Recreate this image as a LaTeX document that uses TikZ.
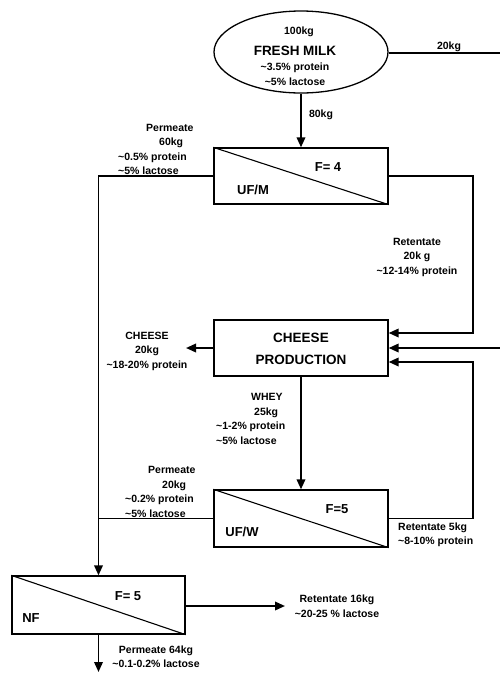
\documentclass[tikz,border=0pt]{standalone}
\usepackage{fontspec}
\setmainfont{Liberation Sans}
\usetikzlibrary{arrows.meta,shapes.geometric}
\begin{document}
\begin{tikzpicture}[x=1pt,y=-1pt,
 box/.style={draw,line width=1.3pt,minimum width=174pt,minimum height=56pt,inner sep=0pt},
 conn/.style={line width=1.9pt},
 arr/.style={conn,-{Triangle[length=10pt,width=8.5pt]}},
 diag/.style={line width=1.1pt},
 sm/.style={font=\bfseries\fontsize{10.5}{14.5}\selectfont,inner sep=0pt},
 big/.style={font=\bfseries\fontsize{13.5}{16}\selectfont,inner sep=0pt},
 lab/.style={font=\bfseries\fontsize{13}{15}\selectfont,inner sep=0pt}]
\useasboundingbox (0,0) rectangle (500,673);

% main units
\node[ellipse,draw,line width=1.3pt,minimum width=174pt,minimum height=82pt,inner sep=0pt] (milk) at (301,52) {};
\node[box] (ufm) at (301,176) {};
\node[box] (cheese) at (301,348) {};
\node[box,minimum height=57pt] (ufw) at (301,518.5) {};
\node[box,minimum width=173pt,minimum height=58pt] (nf) at (98.5,605) {};
\draw[diag] (ufm.north west) -- (ufm.south east);
\draw[diag] (ufw.north west) -- (ufw.south east);
\draw[diag] (nf.north west) -- (nf.south east);

% texts inside
\node[sm] (t100) at (299,32) {100kg};
\node[big] (tfm) at (295,51) {FRESH MILK};
\node[sm] (tmp) at (295,68) {\textasciitilde3.5\% protein};
\node[sm] (tml) at (295,82) {\textasciitilde5\% lactose};
\node[lab] (f4) at (328,167) {F= 4};
\node[lab] (tufm) at (253,190) {UF/M};
\node[big] (tch1) at (301,338) {CHEESE};
\node[big] (tch2) at (301,360) {PRODUCTION};
\node[lab] (f5a) at (337,509) {F=5};
\node[lab] (tufw) at (242,532) {UF/W};
\node[lab] (f5b) at (128,596) {F= 5};
\node[lab] (tnf) at (31,618) {NF};

% coordinates
\coordinate (medge) at (500,53);
\coordinate (cedge) at (500,348);
\coordinate (rx) at (473,0);
\coordinate (ce1) at ([yshift=15pt]cheese.east);
\coordinate (ce3) at ([yshift=-14pt]cheese.east);
\coordinate (cout) at (186,348);
\coordinate (nfr) at (285,606);
\coordinate (nfb) at (98.5,672);

% connectors
\draw[conn] (milk.east |- medge) -- (medge);
\draw[arr] (milk.south) -- (ufm.north);
\draw[arr] (ufm.west) -| (nf.north);
\draw[arr] (ufm.east) -| (rx |- ce1) -- (ce1);
\draw[arr] (cedge) -- (cheese.east);
\draw[arr] (ufw.east) -| (rx |- ce3) -- (ce3);
\draw[arr] (cheese.west) -- (cout);
\draw[arr] (cheese.south) -- (ufw.north);
\draw[conn] (ufw.west) -- (ufw.west -| nf.north);
\draw[arr] (nf.east |- nfr) -- (nfr);
\draw[arr] (nf.south) -- (nfb);

% labels
\node[sm] (l20) at (449,47) {20kg};
\node[sm] (l80) at (321,115) {80kg};
\node[sm,align=left,anchor=west] (lp60) at (118,149.5) {\hspace*{28pt}Permeate\\\hspace*{41pt}60kg\\\textasciitilde0.5\% protein\\\textasciitilde5\% lactose};
\node[sm,align=center] (lr20) at (417,257) {Retentate\\20k g\\\textasciitilde12-14\% protein};
\node[sm,align=center] (lch) at (147,351) {CHEESE\\20kg\\\textasciitilde18-20\% protein};
\node[sm,align=left,anchor=west] (lwh) at (216,419) {\hspace*{35pt}WHEY\\\hspace*{38pt}25kg\\\textasciitilde1-2\% protein\\\textasciitilde5\% lactose};
\node[sm,align=left,anchor=west] (lp20) at (125,491.75) {\hspace*{23pt}Permeate\\\hspace*{37pt}20kg\\\textasciitilde0.2\% protein\\\textasciitilde5\% lactose};
\node[sm,align=left,anchor=west] (lr5) at (398,535) {Retentate 5kg\\\textasciitilde8-10\% protein};
\node[sm,align=center] (lr16) at (337,606) {Retentate 16kg\\\textasciitilde20-25 \% lactose};
\node[sm,align=center] (lp64) at (156,656.5) {Permeate 64kg\\\textasciitilde0.1-0.2\% lactose};
\end{tikzpicture}
\end{document}
